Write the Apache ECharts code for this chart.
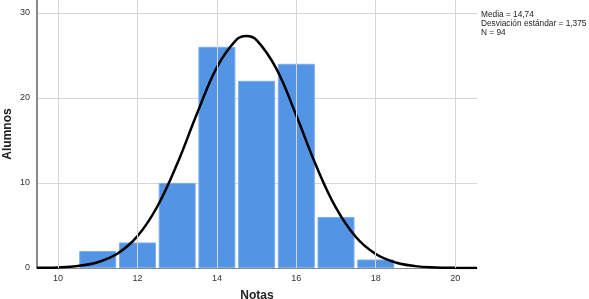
<!DOCTYPE html>
<html>
<head>
<meta charset="utf-8">
<script src="https://cdn.jsdelivr.net/npm/echarts@6/dist/echarts.min.js"></script>
<style>
  html, body { margin: 0; padding: 0; background: #fff; }
  #chart { width: 589px; height: 299px; }
</style>
</head>
<body>
<div id="chart"></div>
<script>
// histogram: bin centres and counts (Notas)
var binCenters = [11, 12, 13, 14, 15, 16, 17, 18];
var counts = [2, 3, 10, 26, 22, 24, 6, 1];
// normal curve
var curveX = [9.47, 10, 10.5, 11, 11.5, 12, 12.5, 13, 13.5, 14, 14.5, 14.74, 15, 15.5, 16, 16.5, 17, 17.5, 18, 18.5, 19, 19.5, 20, 20.55];
var curveY = [0.02, 0.07, 0.24, 0.68, 1.7, 3.74, 7.23, 12.24, 18.16, 23.59, 26.86, 27.27, 26.79, 23.41, 17.92, 12.02, 7.06, 3.64, 1.64, 0.65, 0.22, 0.07, 0.02, 0];
var xTicks = [10, 12, 14, 16, 18, 20];
var yTicks = [0, 10, 20, 30];
var stats = ["Media = 14,74", "Desviación estándar = 1,375", "N = 94"];

var myChart = echarts.init(document.getElementById("chart"));
var font = "Liberation Sans, Arial, sans-serif";

var option = {
  animation: false,
  grid: { left: 37, right: 112, top: 0, bottom: 31, containLabel: false, outerBoundsMode: "none" },
  xAxis: {
    type: "value",
    min: 9.47,
    max: 20.55,
    name: "Notas",
    nameLocation: "middle",
    nameGap: 22,
    nameTextStyle: { fontFamily: font, fontSize: 12, fontWeight: "bold", color: "#222" },
    axisLine: { show: true, lineStyle: { color: "#888", width: 1 } },
    axisTick: { show: false },
    axisLabel: {
      customValues: xTicks,
      fontFamily: font, fontSize: 9, color: "#333", margin: 6
    },
    splitLine: { show: false }
  },
  yAxis: {
    type: "value",
    min: 0,
    max: 31.5,
    interval: 10,
    axisLine: { show: true, lineStyle: { color: "#8a8a8a", width: 2 } },
    axisTick: { show: false },
    axisLabel: {
      showMaxLabel: false,
      fontFamily: font, fontSize: 9, color: "#333", margin: 7
    },
    splitLine: { show: true, showMaxLine: false, lineStyle: { color: "#d6d6d6", width: 1 } }
  },
  series: [
    {
      type: "line",
      data: [],
      silent: true,
      markLine: {
        symbol: "none",
        label: { show: false },
        lineStyle: { color: "#d6d6d6", width: 1, type: "solid" },
        data: xTicks.map(function (v) { return { xAxis: v }; })
      }
    },
    {
      type: "bar",
      data: binCenters.map(function (c, i) { return [c, counts[i]]; }),
      barWidth: 37,
      itemStyle: { color: "#5494e4", borderColor: "#7aaef0", borderWidth: 1 },
      z: 3
    },
    {
      type: "line",
      data: curveX.map(function (x, i) { return [x, curveY[i]]; }),
      smooth: 0.4,
      symbol: "none",
      lineStyle: { color: "#000", width: 2.5 },
      z: 4
    }
  ],
  graphic: [
    {
      type: "text",
      x: 8,
      y: 134,
      rotation: Math.PI / 2,
      style: {
        text: "Alumnos",
        fontFamily: font,
        fontSize: 12,
        fontWeight: "bold",
        fill: "#222",
        align: "center",
        verticalAlign: "middle"
      }
    },
    {
      type: "text",
      left: 481,
      top: 10,
      style: {
        text: stats.join("\n"),
        fontFamily: font,
        fontSize: 8.3,
        lineHeight: 9,
        fill: "#222"
      }
    }
  ]
};
myChart.setOption(option);
</script>
</body>
</html>
